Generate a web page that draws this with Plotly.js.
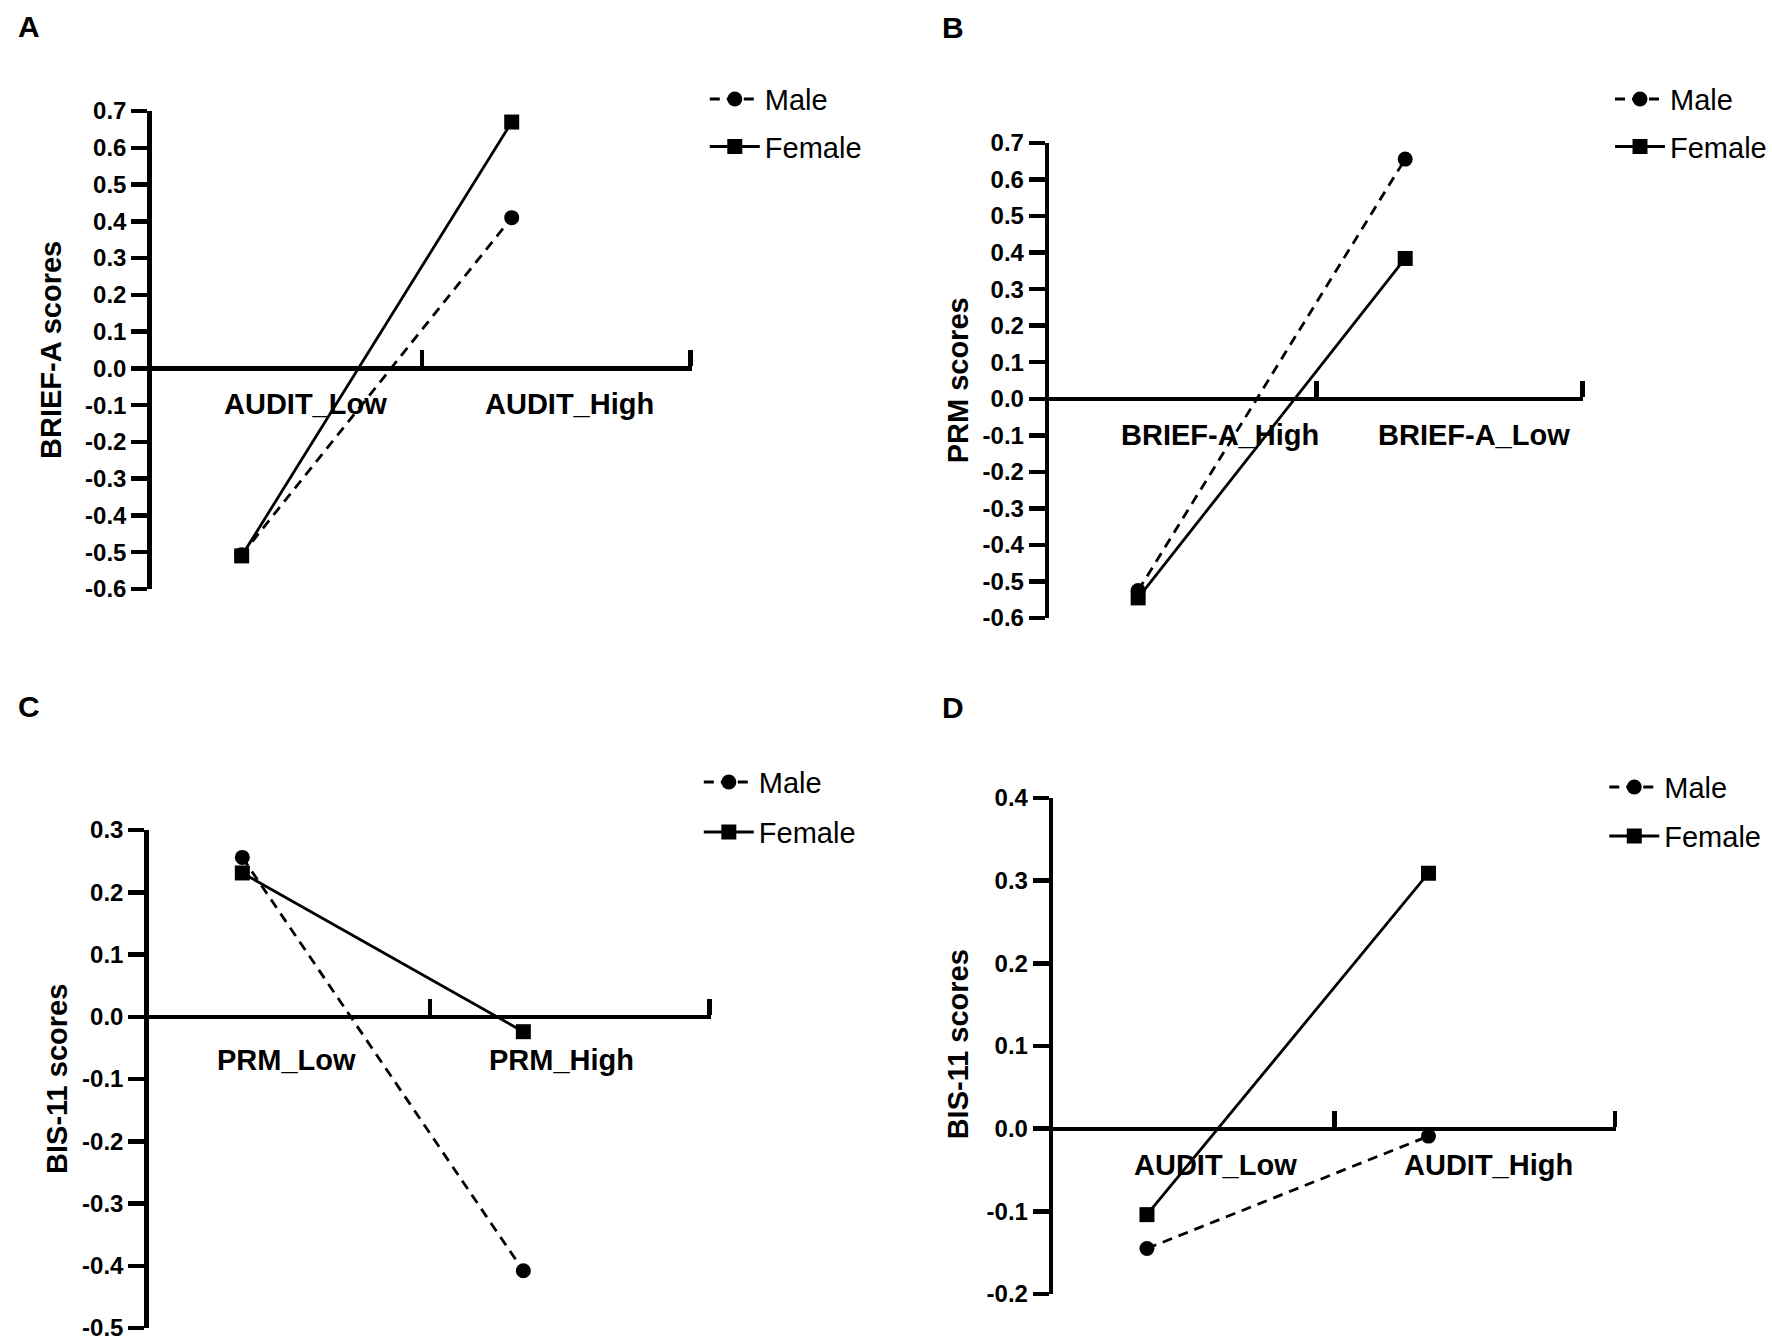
<!DOCTYPE html>
<html>
<head>
<meta charset="utf-8">
<script src="https://cdn.plot.ly/plotly-3.0.1.min.js"></script>
<style>html,body{margin:0;padding:0;background:#fff;}#chart{width:1772px;height:1343px;}</style>
</head>
<body>
<div id="chart"></div>
<script>
// ---------- DATA ----------
const catsA = ['AUDIT_Low', 'AUDIT_High'];
const maleA = [-0.507, 0.41];
const femaleA = [-0.51, 0.67];
const tickLabelsA = ['-0.6','-0.5','-0.4','-0.3','-0.2','-0.1','0.0','0.1','0.2','0.3','0.4','0.5','0.6','0.7'];

const catsB = ['BRIEF-A_High', 'BRIEF-A_Low'];
const maleB = [-0.525, 0.656];
const femaleB = [-0.545, 0.384];
const tickLabelsB = ['-0.6','-0.5','-0.4','-0.3','-0.2','-0.1','0.0','0.1','0.2','0.3','0.4','0.5','0.6','0.7'];

const catsC = ['PRM_Low', 'PRM_High'];
const maleC = [0.256, -0.408];
const femaleC = [0.231, -0.024];
const tickLabelsC = ['-0.5','-0.4','-0.3','-0.2','-0.1','0.0','0.1','0.2','0.3'];

const catsD = ['AUDIT_Low', 'AUDIT_High'];
const maleD = [-0.145, -0.009];
const femaleD = [-0.104, 0.309];
const tickLabelsD = ['-0.2','-0.1','0.0','0.1','0.2','0.3','0.4'];

const seriesNames = ['Male', 'Female'];
const yTitles = ['BRIEF-A scores', 'PRM scores', 'BIS-11 scores', 'BIS-11 scores'];
const panelLetters = ['A', 'B', 'C', 'D'];

// ---------- LAYOUT / STYLE ----------
const W = 1772, H = 1343;
const TXT = 'Liberation Sans, Arial, Helvetica, sans-serif';
const SZ_LABEL = 29, SZ_TICK = 24, SZ_LEG = 29;
const fx = px => px / W;
const fy = py => 1 - py / H;

const panels = [
  {cats: catsA, male: maleA, female: femaleA, ticks: tickLabelsA,
   box: [152, 693, 111, 589], titleXY: [51, 350], letterXY: [29, 26], legend: [768, 100, 47.5],
   labelOff: [0.26, 1.227], labelShift: 36},
  {cats: catsB, male: maleB, female: femaleB, ticks: tickLabelsB,
   box: [1051, 1586, 143, 618], titleXY: [960, 380], letterXY: [955, 27], legend: [1675, 100, 47.5],
   labelOff: [0.26, 1.225], labelShift: 36},
  {cats: catsC, male: maleC, female: femaleC, ticks: tickLabelsC,
   box: [149, 712, 830, 1328], titleXY: [57, 1079], letterXY: [29, 706], legend: [762, 783, 50],
   labelOff: [0.234, 1.204], labelShift: 43},
  {cats: catsD, male: maleD, female: femaleD, ticks: tickLabelsD,
   box: [1055, 1619, 798, 1294], titleXY: [960, 1044], letterXY: [955, 707], legend: [1669, 788, 49],
   labelOff: [0.28, 1.24], labelShift: 36}
];

const PT_OFF = 0.333;
const ITEM_H = SZ_LEG * 1.3 + 3;
const traces = [];
const layout = {
  width: W, height: H,
  margin: {l: 0, r: 0, t: 0, b: 0},
  paper_bgcolor: '#fff', plot_bgcolor: 'rgba(0,0,0,0)',
  showlegend: true,
  font: {family: TXT, color: '#000'},
  annotations: []
};

panels.forEach((p, k) => {
  const n = k === 0 ? '' : String(k + 1);
  const xa = 'x' + n, ya = 'y' + n;
  const lg = 'legend' + n;
  const tickvals = p.ticks.map(Number);
  const ymin = Math.min(...tickvals), ymax = Math.max(...tickvals);
  const yDom = [fy(p.box[3]), fy(p.box[2])];
  const zeroPos = yDom[0] + (0 - ymin) / (ymax - ymin) * (yDom[1] - yDom[0]);
  const xs = p.cats.map((c, i) => i + PT_OFF);
  const nC = p.cats.length;

  traces.push({
    x: xs, y: p.male, name: seriesNames[0], xaxis: xa, yaxis: ya, legend: lg,
    legendgroup: 'm' + k, mode: 'lines+markers', type: 'scatter', cliponaxis: false,
    line: {color: '#000', width: 2.8, dash: '10px,7px'},
    marker: {symbol: 'circle', size: 15, color: '#000'}
  });
  traces.push({
    x: xs, y: p.female, name: seriesNames[1], xaxis: xa, yaxis: ya, legend: lg,
    legendgroup: 'f' + k, mode: 'lines+markers', type: 'scatter', cliponaxis: false,
    line: {color: '#000', width: 2.8},
    marker: {symbol: 'square', size: 15, color: '#000'}
  });

  layout['xaxis' + n] = {
    domain: [fx(p.box[0]), fx(p.box[1])], range: [0, nC],
    anchor: 'free', position: zeroPos,
    showline: true, linecolor: '#000', linewidth: 4.5,
    tickmode: 'array', tickvals: p.cats.map((c, i) => Math.min(i + 1, nC - 0.004)),
    ticks: 'inside', ticklen: 16, tickwidth: 4.5, tickcolor: '#000',
    showticklabels: false, showgrid: false, zeroline: false, fixedrange: true
  };
  layout['yaxis' + n] = {
    domain: yDom, range: [ymin, ymax], anchor: xa,
    showline: true, linecolor: '#000', linewidth: 4.5,
    tickmode: 'array', tickvals: tickvals, ticktext: p.ticks,
    ticks: 'outside', ticklen: 16, tickwidth: 4.5, tickcolor: '#000',
    tickfont: {family: TXT, size: SZ_TICK, weight: 'bold', color: '#000'},
    showgrid: false, zeroline: false, fixedrange: true
  };
  const top = p.legend[1] - ITEM_H / 2 - 6;
  layout[lg] = {
    x: fx(p.legend[0] - 62), y: fy(top), xanchor: 'left', yanchor: 'top',
    xref: 'paper', yref: 'paper',
    font: {family: TXT, size: SZ_LEG, color: '#000'},
    itemwidth: 50, traceorder: 'grouped', tracegroupgap: Math.max(0, p.legend[2] - ITEM_H),
    bgcolor: 'rgba(0,0,0,0)', borderwidth: 0
  };

  p.cats.forEach((c, i) => {
    layout.annotations.push({
      text: c, xref: xa, yref: ya, x: p.labelOff[i], y: 0,
      xanchor: 'left', yanchor: 'middle', yshift: -p.labelShift, showarrow: false,
      font: {family: TXT, size: SZ_LABEL, weight: 'bold', color: '#000'}
    });
  });
  layout.annotations.push({
    text: yTitles[k], xref: 'paper', yref: 'paper',
    x: fx(p.titleXY[0]), y: fy(p.titleXY[1]), xanchor: 'center', yanchor: 'middle',
    textangle: -90, showarrow: false,
    font: {family: TXT, size: SZ_LABEL, weight: 'bold', color: '#000'}
  });
  layout.annotations.push({
    text: panelLetters[k], xref: 'paper', yref: 'paper',
    x: fx(p.letterXY[0]), y: fy(p.letterXY[1]), xanchor: 'center', yanchor: 'middle',
    showarrow: false,
    font: {family: TXT, size: 30, weight: 'bold', color: '#000'}
  });
});

Plotly.newPlot('chart', traces, layout, {staticPlot: true, displayModeBar: false});
</script>
</body>
</html>
